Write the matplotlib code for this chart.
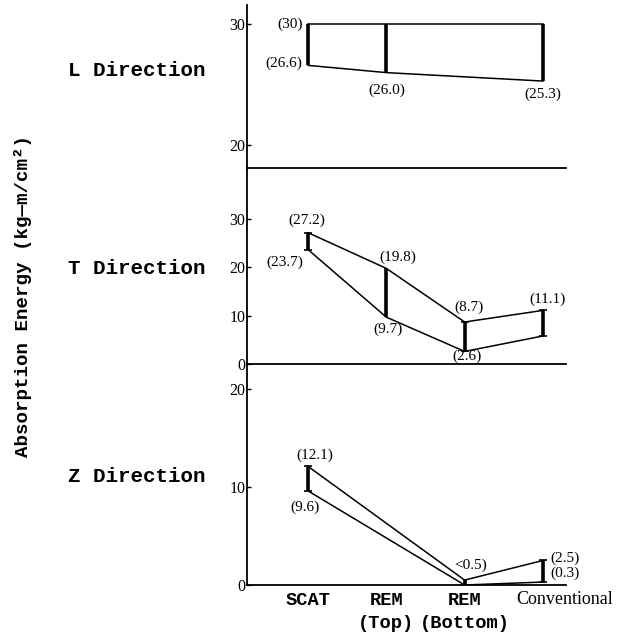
import numpy as np
import matplotlib
matplotlib.use("Agg")
import matplotlib.pyplot as plt
from matplotlib.transforms import ScaledTranslation

# ---- data -------------------------------------------------------------
categories = ["SCAT", "REM\n(Top)", "REM\n(Bottom)", "Conventional"]
x_pos = np.arange(len(categories))

# absorption energy ranges (kg-m/cm^2); nan = not measured
L_low = [26.6, 26.0, np.nan, 25.3]
L_high = [30.0, 30.0, np.nan, 30.0]
T_low = [23.7, 9.7, 2.6, 5.8]
T_high = [27.2, 19.8, 8.7, 11.1]
Z_low = [9.6, np.nan, 0.0, 0.3]
Z_high = [12.1, np.nan, 0.5, 2.5]

L_ticks = [20, 30]
T_ticks = [0, 10, 20, 30]
Z_ticks = [0, 10, 20]

directions = ["L Direction", "T Direction", "Z Direction"]

MONO = "Liberation Mono"
SERIF = "Liberation Serif"

fig = plt.figure(figsize=(6.31, 6.35), dpi=100)
W, H = 631, 635


def px_axes(left, top, right, bottom):
    return fig.add_axes([left / W, 1 - bottom / H, (right - left) / W, (bottom - top) / H])


ax_L = px_axes(247, 5, 566, 168)
ax_T = px_axes(247, 168, 566, 364)
ax_Z = px_axes(247, 364, 566, 585)

ax_L.set_ylim(18.1, 31.6)
ax_T.set_ylim(0, 40.6)
ax_Z.set_ylim(0, 22.55)


def fmt(v):
    return f"({v:.0f})" if v == 30 else f"({v:.1f})"


def draw_panel(ax, low, high, ticks):
    low = np.asarray(low, float)
    high = np.asarray(high, float)
    ok = ~np.isnan(low)
    xs = x_pos[ok]
    ax.plot(xs, low[ok], color="black", lw=1.1, solid_joinstyle="miter")
    ax.plot(xs, high[ok], color="black", lw=1.1, solid_joinstyle="miter")
    ax.vlines(xs, low[ok], high[ok], color="black", lw=2.6)
    ax.set_xlim(-0.78, 3.295)
    ax.set_yticks(ticks)
    ax.set_yticklabels([str(t) for t in ticks], fontfamily=SERIF, fontsize=11.5)
    ax.tick_params(axis="y", direction="in", length=3, width=1, pad=1)
    ax.tick_params(axis="x", length=0)
    for s in ("top", "right"):
        ax.spines[s].set_visible(False)
    for s in ("left", "bottom"):
        ax.spines[s].set_linewidth(1.3)
    ax.patch.set_alpha(0)


draw_panel(ax_L, L_low, L_high, L_ticks)
draw_panel(ax_T, T_low, T_high, T_ticks)
draw_panel(ax_Z, Z_low, Z_high, Z_ticks)

# small end caps on the measured ranges
for ax, low, high, idx in ((ax_T, T_low, T_high, [0, 2, 3]), (ax_Z, Z_low, Z_high, [0, 3])):
    for i in idx:
        ax.plot([x_pos[i]] * 2, [low[i], high[i]], ls="none", marker="_",
                ms=6, mew=1.2, color="black")

ax_L.set_xticks([])
ax_T.set_xticks([])
ax_Z.set_xticks(x_pos)
ax_Z.set_xticklabels(categories, fontfamily=MONO, fontweight="bold", fontsize=13.5,
                     linespacing=1.45)
ax_Z.tick_params(axis="x", pad=5)
conv = ax_Z.get_xticklabels()[3]
conv.set_fontfamily(SERIF)
conv.set_fontweight("normal")
conv.set_fontsize(13)
conv.set_transform(conv.get_transform() + ScaledTranslation(22 / 100, 1 / 100, fig.dpi_scale_trans))


# value annotations placed with pixel offsets from their points
def note(ax, i, v, dx, dy, ha="center", text=None):
    ax.annotate(text if text is not None else fmt(v), (x_pos[i], v),
                xytext=(dx * 0.72, dy * 0.72), textcoords="offset points",
                ha=ha, va="center", fontfamily=SERIF, fontsize=11)


note(ax_L, 0, L_high[0], -5, 0, "right")
note(ax_L, 0, L_low[0], -6, 2, "right")
note(ax_L, 1, L_low[1], 0, -18)
note(ax_L, 3, L_low[3], 0, -13)

note(ax_T, 0, T_high[0], -1, 12)
note(ax_T, 0, T_low[0], -5, -13, "right")
note(ax_T, 1, T_high[1], 11, 11)
note(ax_T, 1, T_low[1], 2, -12)
note(ax_T, 2, T_high[2], 4, 15)
note(ax_T, 2, T_low[2], 2, -5)
note(ax_T, 3, T_high[3], 5, 11)

note(ax_Z, 0, Z_high[0], 7, 11)
note(ax_Z, 0, Z_low[0], -3, -16)
note(ax_Z, 2, Z_high[2], -10, 15, "left", text=f"<{Z_high[2]:.1f})")
note(ax_Z, 3, Z_high[3], 7, 2, "left")
note(ax_Z, 3, Z_low[3], 7, 9, "left")

# panel titles and shared y-axis label
for name, yc in zip(directions, (70, 268, 477)):
    fig.text(137 / W, 1 - yc / H, name, ha="center", va="center",
             fontfamily=MONO, fontweight="bold", fontsize=15)

fig.text(23 / W, 1 - 296 / H, "Absorption Energy (kg\u2014m/cm\u00b2)", rotation=90,
         ha="center", va="center", fontfamily=MONO, fontweight="bold", fontsize=13.8)

fig.savefig("out.png", dpi=100)
